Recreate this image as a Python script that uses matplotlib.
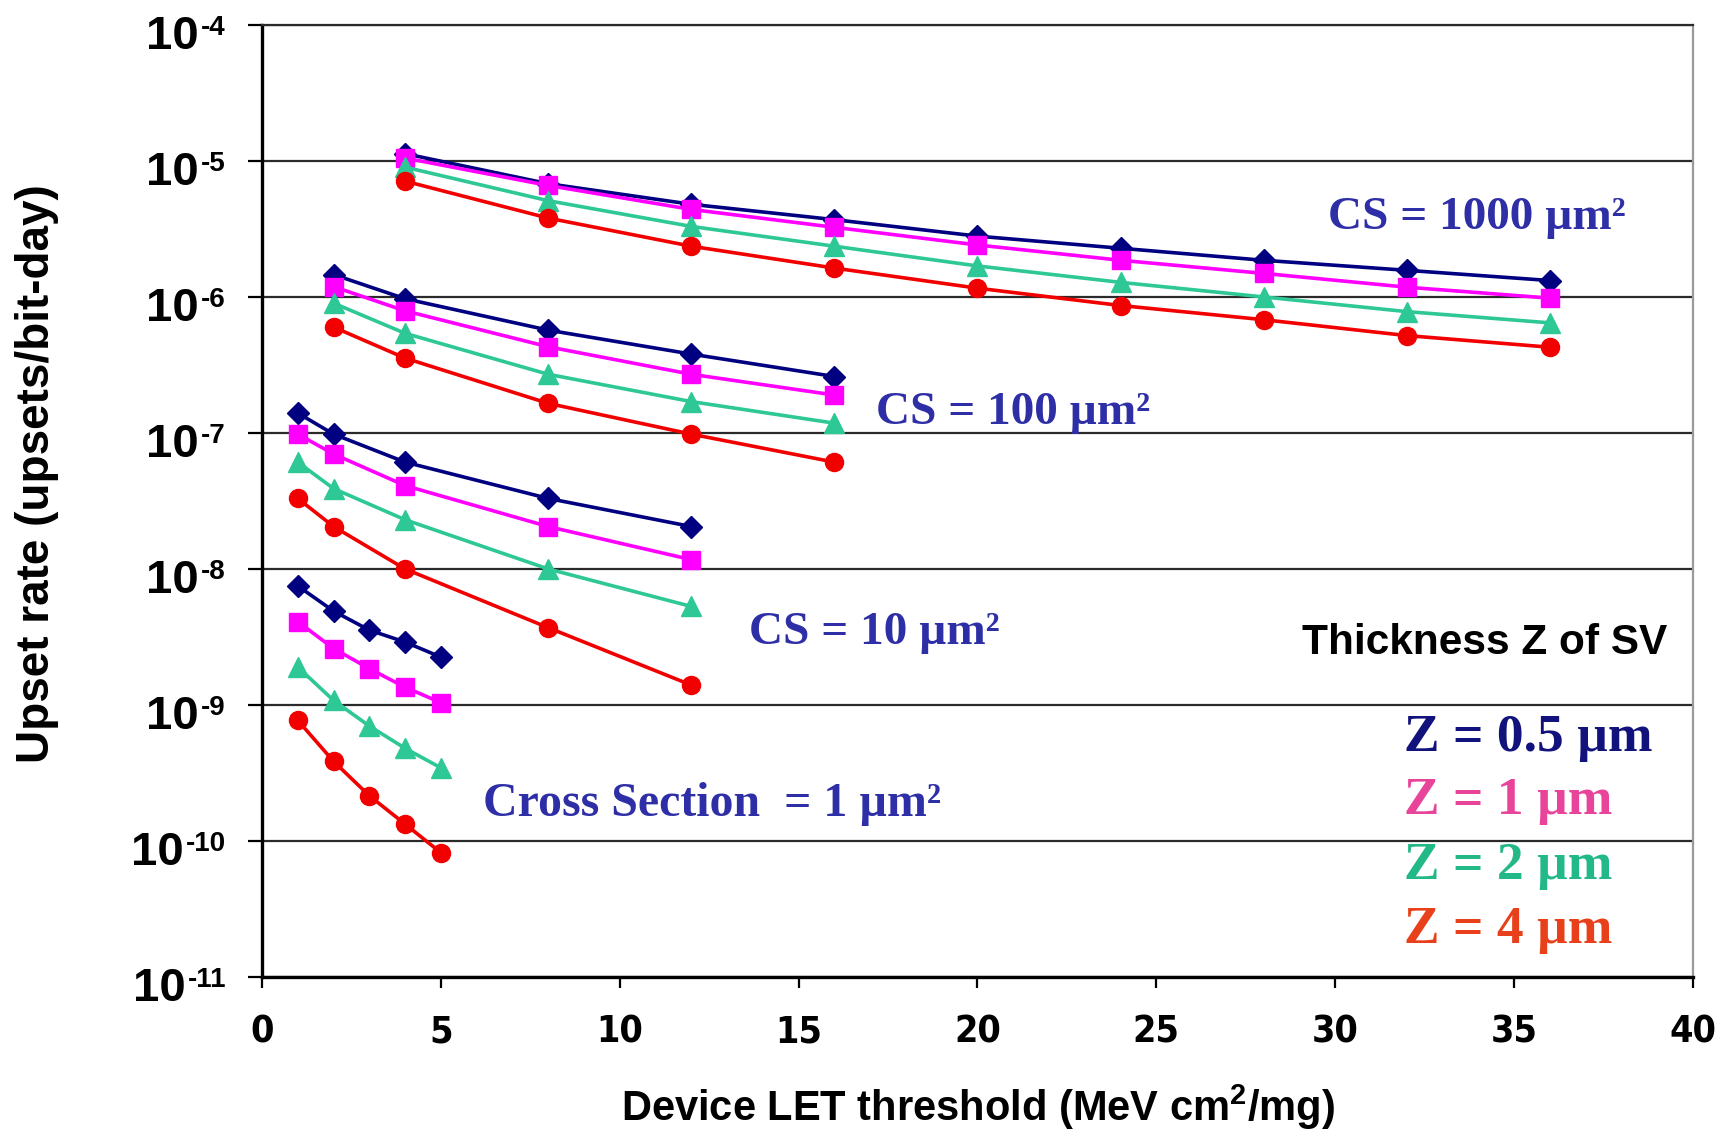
import matplotlib
matplotlib.use("Agg")
import matplotlib.pyplot as plt
from matplotlib import font_manager as fm
from matplotlib.ticker import NullLocator

plt.rcParams['mathtext.fontset'] = 'custom'
plt.rcParams['mathtext.rm'] = 'Liberation Sans:bold'
plt.rcParams['mathtext.it'] = 'Liberation Sans:bold:italic'
plt.rcParams['mathtext.bf'] = 'Liberation Sans:bold'
plt.rcParams['mathtext.default'] = 'bf'

# Device LET threshold (MeV cm^2/mg) for each cross-section group
let_cs1 = [1, 2, 3, 4, 5]
let_cs10 = [1, 2, 4, 8, 12]
let_cs100 = [2, 4, 8, 12, 16]
let_cs1000 = [4, 8, 12, 16, 20, 24, 28, 32, 36]

# Upset rate (upsets/bit-day), one list per SV thickness Z
cs1_z05 = [7.5e-9, 4.9e-9, 3.55e-9, 2.9e-9, 2.25e-9]
cs1_z1 = [4.1e-9, 2.6e-9, 1.85e-9, 1.35e-9, 1.04e-9]
cs1_z2 = [1.9e-9, 1.08e-9, 7.0e-10, 4.8e-10, 3.45e-10]
cs1_z4 = [7.7e-10, 3.85e-10, 2.15e-10, 1.33e-10, 8.2e-11]

cs10_z05 = [1.4e-7, 9.8e-8, 6.1e-8, 3.3e-8, 2.05e-8]
cs10_z1 = [9.8e-8, 7.0e-8, 4.1e-8, 2.05e-8, 1.17e-8]
cs10_z2 = [6.1e-8, 3.9e-8, 2.3e-8, 1.0e-8, 5.3e-9]
cs10_z4 = [3.3e-8, 2.05e-8, 1.0e-8, 3.7e-9, 1.4e-9]

cs100_z05 = [1.46e-6, 9.7e-7, 5.7e-7, 3.8e-7, 2.6e-7]
cs100_z1 = [1.19e-6, 7.9e-7, 4.3e-7, 2.7e-7, 1.9e-7]
cs100_z2 = [9.0e-7, 5.4e-7, 2.7e-7, 1.7e-7, 1.18e-7]
cs100_z4 = [6.0e-7, 3.55e-7, 1.65e-7, 9.8e-8, 6.1e-8]

cs1000_z05 = [1.13e-5, 6.8e-6, 4.8e-6, 3.7e-6, 2.8e-6, 2.28e-6, 1.86e-6, 1.57e-6, 1.32e-6]
cs1000_z1 = [1.05e-5, 6.6e-6, 4.4e-6, 3.25e-6, 2.41e-6, 1.86e-6, 1.49e-6, 1.18e-6, 9.8e-7]
cs1000_z2 = [9.0e-6, 5.1e-6, 3.3e-6, 2.36e-6, 1.69e-6, 1.28e-6, 1.0e-6, 7.8e-7, 6.45e-7]
cs1000_z4 = [7.1e-6, 3.8e-6, 2.36e-6, 1.63e-6, 1.16e-6, 8.65e-7, 6.8e-7, 5.2e-7, 4.27e-7]

thickness_labels = ["Z = 0.5 µm", "Z = 1 µm", "Z = 2 µm", "Z = 4 µm"]
group_labels = ["Cross Section  = 1 µm²", "CS = 10 µm²", "CS = 100 µm²", "CS = 1000 µm²"]

xtick_vals = [0, 5, 10, 15, 20, 25, 30, 35, 40]
xtick_labels = ["0", "5", "10", "15", "20", "25", "30", "35", "40"]
ytick_vals = [1e-11, 1e-10, 1e-9, 1e-8, 1e-7, 1e-6, 1e-5, 1e-4]
ytick_exps = ["-11", "-10", "-9", "-8", "-7", "-6", "-5", "-4"]

groups = [
    (let_cs1, [cs1_z05, cs1_z1, cs1_z2, cs1_z4]),
    (let_cs10, [cs10_z05, cs10_z1, cs10_z2, cs10_z4]),
    (let_cs100, [cs100_z05, cs100_z1, cs100_z2, cs100_z4]),
    (let_cs1000, [cs1000_z05, cs1000_z1, cs1000_z2, cs1000_z4]),
]

line_colors = ["#000080", "#FF00FF", "#2EC796", "#F20000"]
markers = ["D", "s", "^", "o"]
marker_sizes = [11, 13, 15, 13]
legend_colors = ["#12127C", "#E8449A", "#22B888", "#E8401A"]
note_color = "#2E2EA6"

# Narrow bold face for the x tick numbers, when one is installed
installed = fm.fontManager.ttflist
if any(f.name == "Liberation Sans Narrow" for f in installed):
    xt_family, xt_stretch, xt_size = "Liberation Sans Narrow", "normal", 30
elif any(f.name == "DejaVu Sans" and f.stretch == "condensed" for f in installed):
    xt_family, xt_stretch, xt_size = "DejaVu Sans", "condensed", 27
else:
    xt_family, xt_stretch, xt_size = "Liberation Sans", "normal", 27

fig = plt.figure(figsize=(17.25, 11.33), dpi=100)
ax = fig.add_axes([0.1519, 0.1377, 0.8295, 0.8403])
ax.set_yscale("log")
ax.set_xlim(0, 40)
ax.set_ylim(1e-11, 1e-4)

for let, series in groups:
    for vals, c, m, ms in zip(series, line_colors, markers, marker_sizes):
        ax.plot(let, vals, color=c, lw=2.6, marker=m, ms=ms,
                mfc=c, mec=c, zorder=3)

# Axes frame and grid
ax.set_axisbelow(True)
ax.grid(axis="y", which="major", color="#2a2a2a", lw=1.6)
ax.grid(axis="x", visible=False)
for side in ("left", "bottom"):
    ax.spines[side].set_color("black")
    ax.spines[side].set_linewidth(2.4)
ax.spines["top"].set_color("#2a2a2a")
ax.spines["top"].set_linewidth(1.6)
ax.spines["right"].set_color("#9a9a9a")
ax.spines["right"].set_linewidth(1.6)

# X axis
ax.set_xticks(xtick_vals)
ax.set_xticklabels(xtick_labels, fontsize=xt_size, fontweight="bold",
                   family=xt_family, fontstretch=xt_stretch)
ax.tick_params(axis="x", length=8, width=1.6, pad=19, color="black")

# Y axis: decade ticks with "10" + superscript exponent labels
ax.set_yticks(ytick_vals)
ax.yaxis.set_minor_locator(NullLocator())
ax.tick_params(axis="y", which="major", length=10, width=1.6, labelleft=False)
for v, e in zip(ytick_vals, ytick_exps):
    sup = ax.annotate(e, xy=(0, v), xycoords=("axes fraction", "data"),
                      xytext=(-26, -7), textcoords="offset points",
                      ha="right", va="baseline", fontsize=20,
                      fontweight="bold", family="Liberation Sans",
                      annotation_clip=False)
    ax.annotate("10", xy=(0, v), xycoords=(sup, "data"),
                xytext=(-1.5, -17), textcoords="offset points",
                ha="right", va="baseline", fontsize=34,
                fontweight="bold", family="Liberation Sans",
                annotation_clip=False)

ax.set_ylabel("Upset rate (upsets/bit-day)", fontsize=33, fontweight="bold",
              family="Liberation Sans")
ax.yaxis.set_label_coords(-0.142, 0.529)
ax.set_xlabel("Device LET threshold (MeV cm$^2$/mg)", fontsize=30,
              fontweight="bold", family="Liberation Sans")
ax.xaxis.set_label_coords(0.5, -0.111)

# Cross-section group notes
note_pos = [(6.19, 10 ** -9.817, 34.5), (13.6, 10 ** -8.555, 34),
            (17.15, 10 ** -6.937, 34), (29.8, 10 ** -5.497, 34)]
for (x, y, fs), s in zip(note_pos, group_labels):
    ax.text(x, y, s, fontsize=fs, fontweight="bold", family="Liberation Serif",
            color=note_color, va="baseline", ha="left", zorder=4)

# Thickness key
ax.text(39.29, 10 ** -8.628, "Thickness Z of SV", fontsize=30.5,
        fontweight="bold", family="Liberation Sans", color="black",
        ha="right", va="baseline")
key_y = [-9.34, -9.801, -10.278, -10.748]
for ky, s, c in zip(key_y, thickness_labels, legend_colors):
    ax.text(31.93, 10 ** ky, s, fontsize=38.5, fontweight="bold",
            family="Liberation Serif", color=c, ha="left", va="baseline")

fig.savefig("out.png", dpi=100)
